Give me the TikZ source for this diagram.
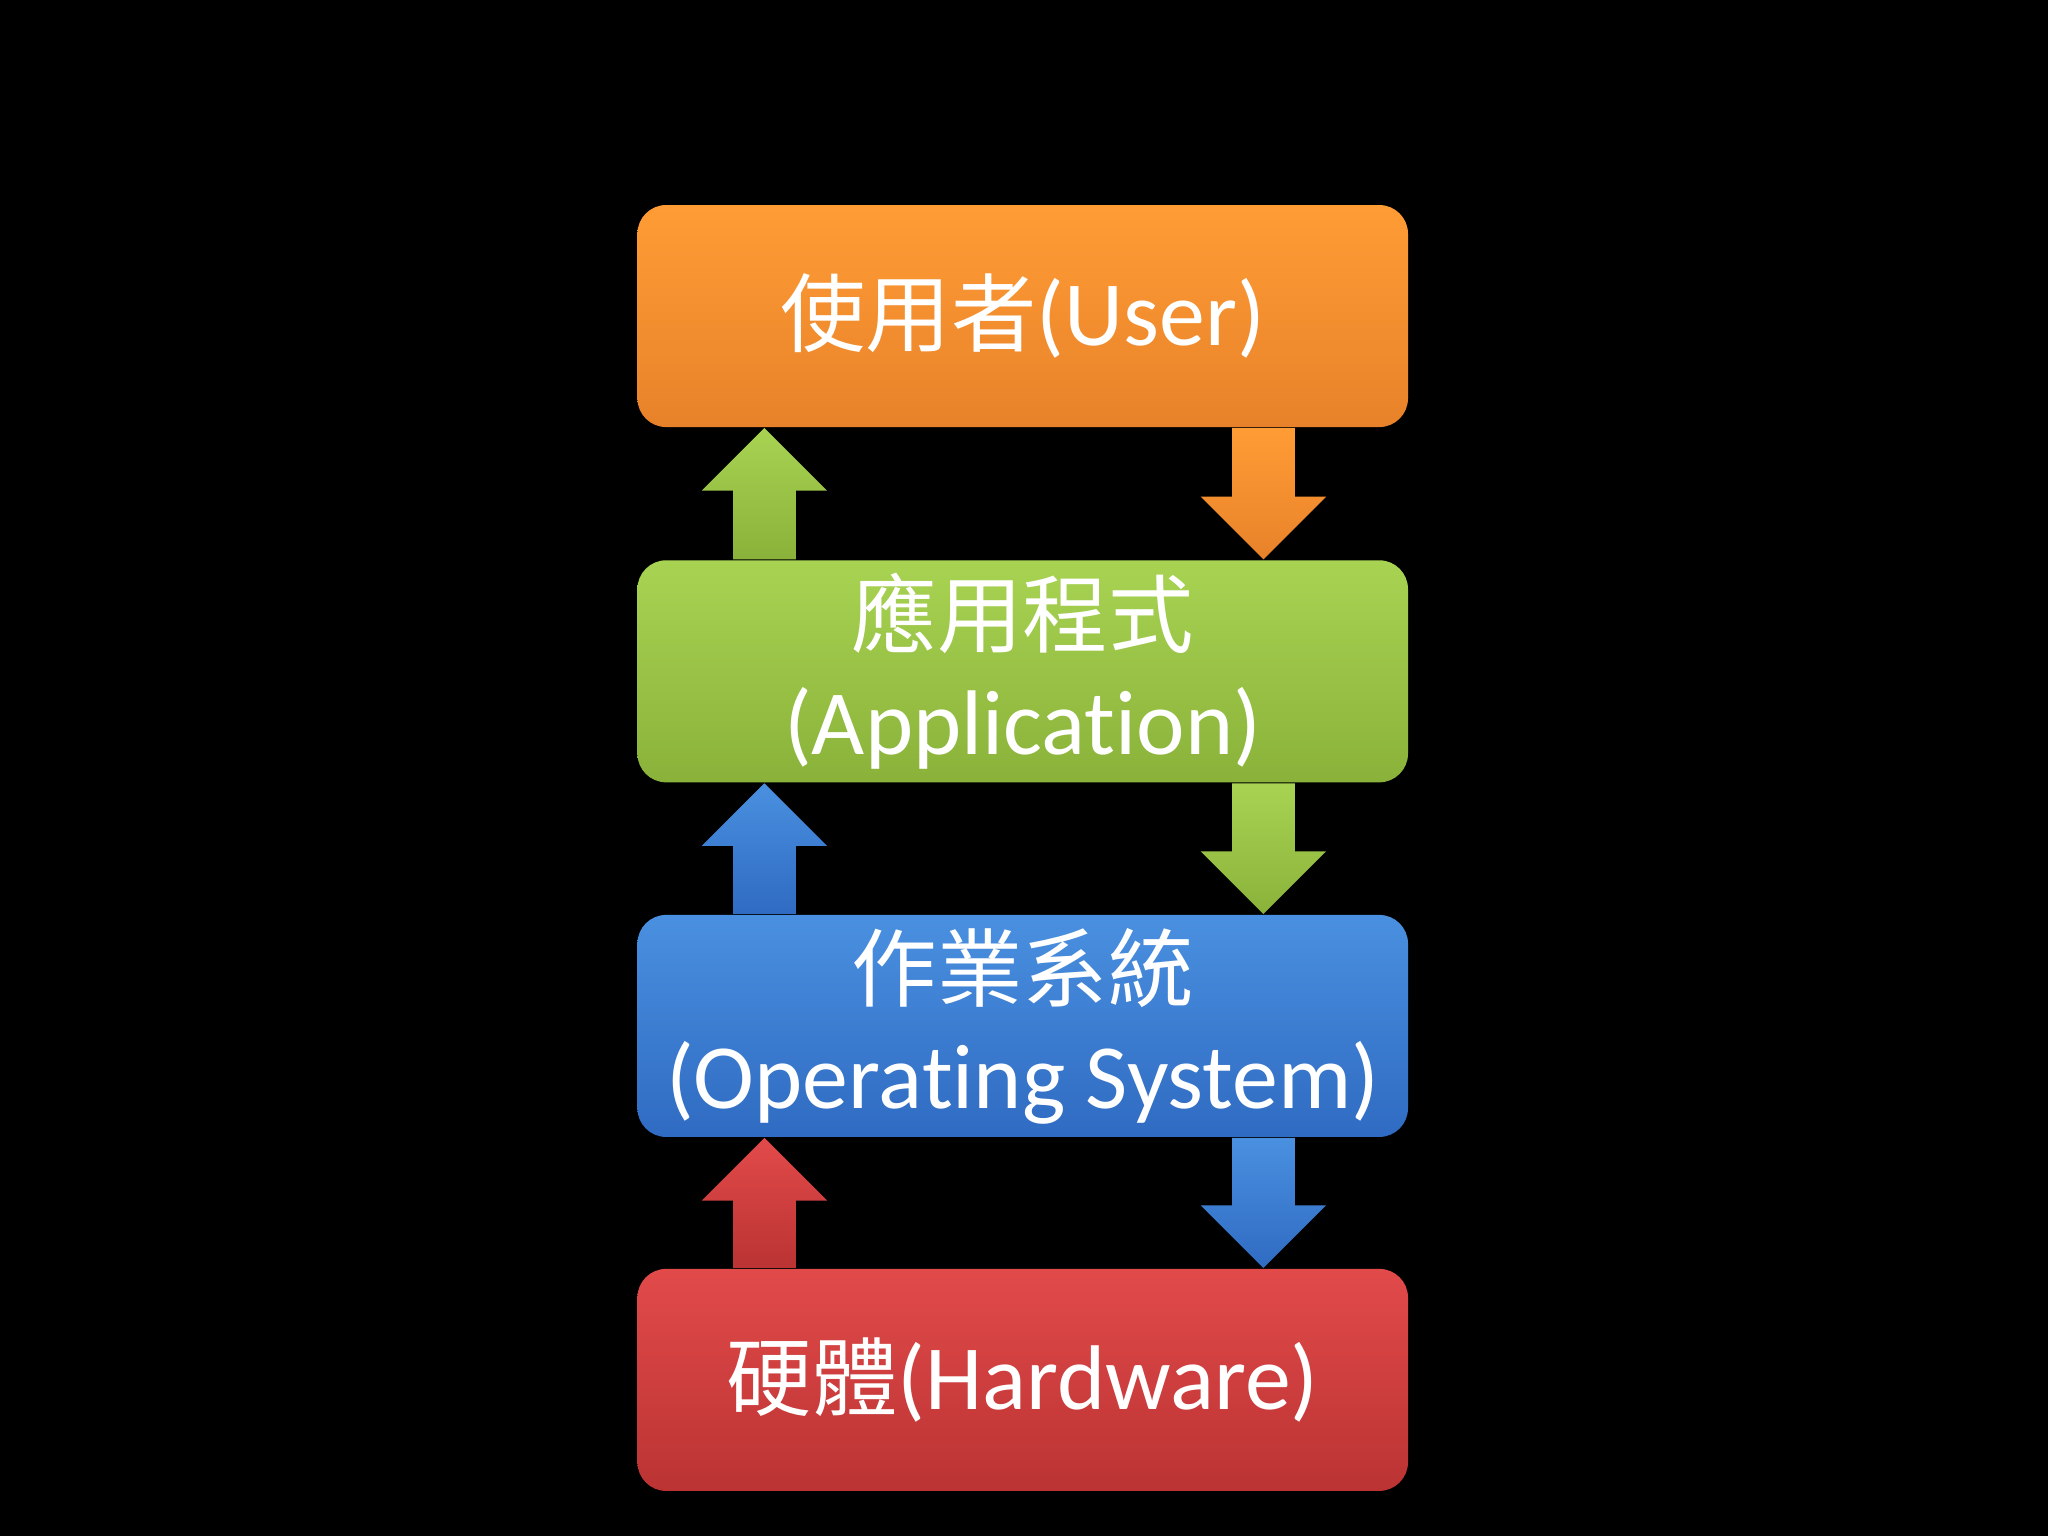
\documentclass[tikz,border=0pt]{standalone}
\usepackage{fontspec}
\setmainfont[Ligatures=NoCommon]{Carlito}
\newfontfamily\cjk[Scale=0.93]{Noto Sans CJK TC}
\usetikzlibrary{calc}
\usetikzlibrary{positioning}

\definecolor{usertop}{HTML}{FF9C35}
\definecolor{userbot}{HTML}{E8822A}
\definecolor{apptop}{HTML}{A8D352}
\definecolor{appbot}{HTML}{8AB23A}
\definecolor{ostop}{HTML}{4A90E0}
\definecolor{osbot}{HTML}{2F6BC2}
\definecolor{hwtop}{HTML}{E24A4A}
\definecolor{hwbot}{HTML}{BB3333}

\tikzset{
  layer/.style={rounded corners=0.22cm, minimum width=5.90cm, minimum height=1.70cm,
    text=white, align=center, font=\fontsize{20}{23.5}\selectfont, inner sep=0pt},
}

% arrow going up from #1 to #2, arrow going down from #2 to #1
\newcommand\arrowup[4]{
  \fill[top color=#3, bottom color=#4]
    ($(#1.north west)+(0.74,0)$) -- ($(#2.south west)+(0.74,-0.48)$) -- ($(#2.south west)+(0.50,-0.48)$)
    -- ($(#2.south west)+(0.98,0)$) -- ($(#2.south west)+(1.46,-0.48)$) -- ($(#2.south west)+(1.22,-0.48)$)
    -- ($(#1.north west)+(1.22,0)$) -- cycle;
}
\newcommand\arrowdown[4]{
  \fill[top color=#3, bottom color=#4]
    ($(#2.south west)+(4.56,0)$) -- ($(#1.north west)+(4.56,0.48)$) -- ($(#1.north west)+(4.32,0.48)$)
    -- ($(#1.north west)+(4.80,0)$) -- ($(#1.north west)+(5.28,0.48)$) -- ($(#1.north west)+(5.04,0.48)$)
    -- ($(#2.south west)+(5.04,0)$) -- cycle;
}

\begin{document}
\begin{tikzpicture}
	\fill[black] (0,0) rectangle (15.68,11.76);

	\node[layer, top color=usertop, bottom color=userbot] at (7.83,9.34) (user) {{\cjk 使用者}(User)};
	\node[layer, top color=apptop, bottom color=appbot] at (7.83,6.62) (app) {{\cjk 應用程式}\\(Application)};
	\node[layer, top color=ostop, bottom color=osbot] at (7.83,3.905) (os) {{\cjk 作業系統}\\(Operating System)};
	\node[layer, top color=hwtop, bottom color=hwbot] at (7.83,1.195) (hw) {{\cjk 硬體}(Hardware)};

	\arrowup{app}{user}{apptop}{appbot} % green up
	\arrowdown{app}{user}{usertop}{userbot} % orange down
	\arrowup{os}{app}{ostop}{osbot} % blue up
	\arrowdown{os}{app}{apptop}{appbot} % green down
	\arrowup{hw}{os}{hwtop}{hwbot} % red up
	\arrowdown{hw}{os}{ostop}{osbot} % blue down
\end{tikzpicture}
\end{document}
